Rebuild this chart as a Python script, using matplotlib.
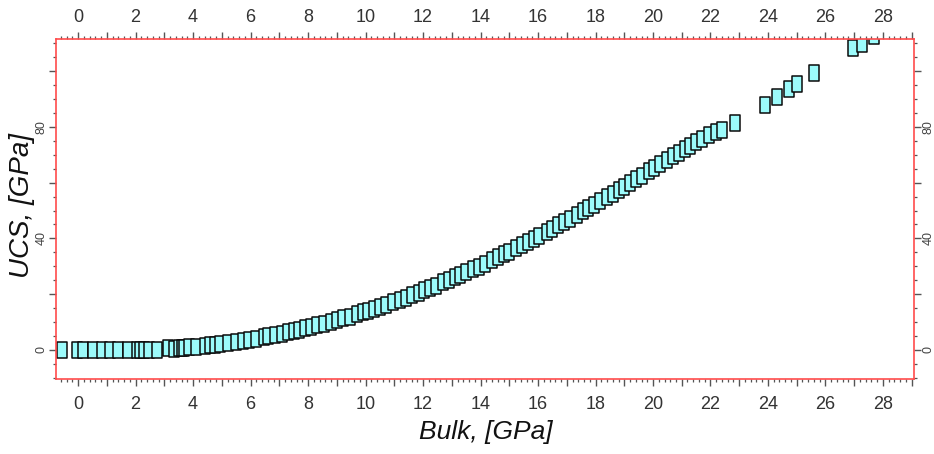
import matplotlib
matplotlib.use("Agg")
import matplotlib.pyplot as plt
from matplotlib.path import Path
from matplotlib.ticker import MultipleLocator
import numpy as np

# ---- data ----
bulk = [-0.57, -0.05, 0.18, 0.53, 0.82, 1.11, 1.39, 1.74, 2.05, 2.15, 2.28, 2.45, 2.73,
        3.13, 3.35, 3.5, 3.6, 3.7, 3.85, 4.1, 4.4, 4.6, 4.75, 4.95, 5.2, 5.5, 5.75, 5.95,
        6.2, 6.45, 6.6, 6.85, 7.1, 7.3, 7.5, 7.7, 7.9, 8.1, 8.3, 8.55, 8.8, 9.0, 9.2, 9.45,
        9.7, 9.9, 10.1, 10.3, 10.5, 10.7, 10.95, 11.2, 11.4, 11.6, 11.85, 12.05, 12.25,
        12.45, 12.7, 12.9, 13.1, 13.3, 13.5, 13.75, 13.95, 14.15, 14.4, 14.6, 14.8, 15.0,
        15.25, 15.45, 15.65, 15.85, 16.05, 16.3, 16.5, 16.7, 16.9, 17.1, 17.35, 17.55,
        17.75, 17.95, 18.15, 18.4, 18.6, 18.8, 19.0, 19.2, 19.4, 19.6, 19.85, 20.05, 20.25,
        20.5, 20.7, 20.9, 21.1, 21.3, 21.5, 21.7, 21.95, 22.2, 22.4, 22.85,
        23.9, 24.3, 24.73, 25.0, 25.6, 26.96, 27.27, 27.7]
ucs = [0, 0, 0, 0, 0, 0, 0, 0, 0, 0, 0, 0, 0,
       0.6, 0.5, 0.6, 0.7, 0.8, 0.9, 1.2, 1.5, 1.7, 1.9, 2.2, 2.5, 3.0, 3.3, 3.7,
       4.1, 4.6, 4.9, 5.4, 5.9, 6.4, 6.8, 7.3, 7.8, 8.3, 8.8, 9.4, 10.1, 10.7, 11.3, 12.0,
       12.8, 13.5, 14.1, 14.8, 15.5, 16.2, 17.1, 18.0, 18.8, 19.6, 20.6, 21.4, 22.2,
       23.1, 24.2, 25.1, 26.0, 26.9, 27.8, 29.0, 29.9, 30.9, 32.2, 33.2, 34.3, 35.3,
       36.6, 37.7, 38.8, 39.9, 41.0, 42.4, 43.5, 44.7, 45.8, 47.0, 48.5, 49.7,
       50.9, 52.1, 53.3, 54.9, 56.1, 57.4, 58.6, 59.9, 61.2, 62.4, 64.0, 65.3, 66.6,
       68.2, 69.5, 70.8, 72.0, 73.3, 74.6, 75.6, 77.0, 78.2, 79.0, 81.4,
       87.8, 90.8, 93.5, 95.3, 99.2, 108.2, 109.8, 112.5]
x_ticks = [0, 2, 4, 6, 8, 10, 12, 14, 16, 18, 20, 22, 24, 26, 28]
y_ticks = [0, 40, 80]
x_label = "Bulk, [GPa]"
y_label = "UCS, [GPa]"

SANS = ["Liberation Sans Narrow", "Liberation Sans", "DejaVu Sans"]

fig = plt.figure(figsize=(9.34, 4.54), dpi=100)
W, H = 934, 454
l, r, t, b = 56, 914, 39, 379
ax = fig.add_axes([l / W, 1 - b / H, (r - l) / W, (b - t) / H])

rect = Path([(-0.31, -0.5), (0.31, -0.5), (0.31, 0.5), (-0.31, 0.5), (-0.31, -0.5)],
            [Path.MOVETO, Path.LINETO, Path.LINETO, Path.LINETO, Path.CLOSEPOLY])
ax.plot(bulk, ucs, linestyle="none", marker=rect, markersize=11.5,
        markerfacecolor="#9cfbfb", markeredgecolor="#0a0a0a", markeredgewidth=1.1,
        clip_on=True)

ax.set_xlim(-0.77, 29.08)
ax.set_ylim(-10.4, 111.5)

for s in ax.spines.values():
    s.set_color("#ff4b4b")
    s.set_linewidth(1.2)

tick_color = "#555555"
ax.xaxis.set_major_locator(MultipleLocator(1))
ax.xaxis.set_minor_locator(MultipleLocator(0.2))
ax.yaxis.set_major_locator(MultipleLocator(20))
ax.yaxis.set_minor_locator(MultipleLocator(5))
ax.set_xticklabels([])
ax.set_yticklabels([])
ax.tick_params(which="major", direction="out", length=5, width=1.0, color=tick_color,
               top=True, right=True)
ax.tick_params(which="minor", direction="out", length=2.2, width=0.9, color=tick_color,
               top=True, right=True)


def label_x(side, pad):
    sec = ax.secondary_xaxis(side)
    sec.set_xticks(x_ticks)
    sec.set_xticklabels([str(v) for v in x_ticks], fontfamily=SANS, fontsize=13,
                        color="#333333")
    sec.tick_params(length=0, pad=pad)
    sec.spines[side].set_visible(False)
    return sec


def label_y(side, pad):
    sec = ax.secondary_yaxis(side)
    sec.set_yticks(y_ticks)
    sec.set_yticklabels([str(v) for v in y_ticks], fontfamily=["Liberation Sans", "DejaVu Sans"],
                        fontsize=9, color="#444444", rotation=90, va="center")
    sec.tick_params(length=0, pad=pad)
    sec.spines[side].set_visible(False)
    return sec


label_x("bottom", 12)
label_x("top", 9)
label_y("left", 6)
label_y("right", 6)

fig.text((l + r) / 2 / W + 0.001, 1 - 432 / H, x_label, ha="center", va="center",
         fontsize=19, style="italic", fontfamily=SANS, color="#111111")
fig.text(22 / W, 1 - 205 / H, y_label, ha="center", va="center", rotation=90,
         fontsize=20, style="italic", fontfamily=["Liberation Sans", "DejaVu Sans"],
         color="#111111")

fig.savefig("out.png", dpi=100)
